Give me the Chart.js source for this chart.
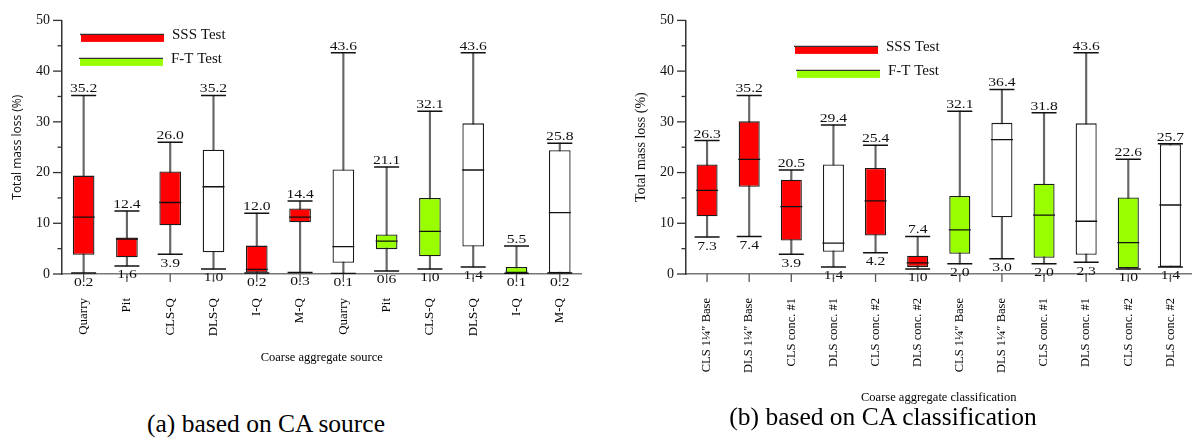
<!DOCTYPE html>
<html>
<head>
<meta charset="utf-8">
<script src="https://cdn.jsdelivr.net/npm/chart.js@4"></script>
<style>
  body { margin: 0; width: 1204px; height: 440px; overflow: hidden; background: #fff; position: relative; }
  .panel { position: absolute; top: 0; }
  .caption { position: absolute; font-family: "Liberation Serif", serif; font-size: 25.5px; color: #000; white-space: nowrap; transform: translate(-50%, -50%); }
</style>
</head>
<body>
<div class="panel" style="left:0"><canvas id="chartA" width="600" height="380"></canvas></div>
<div class="panel" style="left:600px"><canvas id="chartB" width="610" height="420"></canvas></div>
<div class="caption" style="left:266px;top:424px">(a) based on CA source</div>
<div class="caption" style="left:883px;top:417px">(b) based on CA classification</div>

<script>
// (a) based on CA source
const sourceLabels = ["Quarry", "Pit", "CLS-Q", "DLS-Q", "I-Q", "M-Q", "Quarry", "Pit", "CLS-Q", "DLS-Q", "I-Q", "M-Q"];
const sourceTest = ["SSS", "SSS", "SSS", "other", "SSS", "SSS", "other", "F-T", "F-T", "other", "F-T", "other"];
const sourceMin = [0.2, 1.6, 3.9, 1.0, 0.2, 0.3, 0.1, 0.6, 1.0, 1.4, 0.1, 0.2];
const sourceQ1 = [3.8, 3.3, 9.6, 4.3, 0.3, 10.2, 2.2, 4.9, 3.5, 5.4, 0.1, 0.2];
const sourceMed = [11.2, 6.9, 14.1, 17.2, 0.9, 11.2, 5.4, 6.5, 8.4, 20.5, 0.3, 12.1];
const sourceQ3 = [19.4, 7.2, 20.2, 24.5, 5.6, 12.9, 20.6, 7.8, 15.0, 29.7, 1.4, 24.4];
const sourceMax = [35.2, 12.4, 26.0, 35.2, 12.0, 14.4, 43.6, 21.1, 32.1, 43.6, 5.5, 25.8];

// (b) based on CA classification
const classLabels = ["CLS 1¼″ Base", "DLS 1¼″ Base", "CLS conc. #1", "DLS conc. #1", "CLS conc. #2", "DLS conc. #2",
  "CLS 1¼″ Base", "DLS 1¼″ Base", "CLS conc. #1", "DLS conc. #1", "CLS conc. #2", "DLS conc. #2"];
const classTest = ["SSS", "SSS", "SSS", "other", "SSS", "SSS", "F-T", "other", "F-T", "other", "F-T", "other"];
const classMin = [7.3, 7.4, 3.9, 1.4, 4.2, 1.0, 2.0, 3.0, 2.0, 2.3, 1.0, 1.4];
const classQ1 = [11.4, 17.2, 6.6, 4.4, 7.6, 1.4, 4.0, 11.2, 3.2, 3.8, 1.1, 1.4];
const classMed = [16.5, 22.6, 13.3, 6.1, 14.4, 2.2, 8.7, 26.5, 11.6, 10.4, 6.2, 13.6];
const classQ3 = [21.6, 30.1, 18.6, 21.6, 20.9, 3.6, 15.4, 29.8, 17.8, 29.7, 15.1, 25.6];
const classMax = [26.3, 35.2, 20.5, 29.4, 25.4, 7.4, 32.1, 36.4, 31.8, 43.6, 22.6, 25.7];

const yTicks = [0, 10, 20, 30, 40, 50];

const fills = { "SSS": "#ff0000", "F-T": "#99ff00", "other": "#ffffff" };
const serif = '"Liberation Serif", "Times New Roman", serif';

// stretched number text like the original figure
function wideText(ctx, txt, x, y) {
  ctx.save();
  ctx.translate(x, y);
  ctx.scale(1.25, 1);
  ctx.fillText(txt, 0, 0);
  ctx.restore();
}

const boxDeco = {
  id: "boxDeco",
  afterDraw(chart, args, opts) {
    const { ctx, chartArea } = chart;
    const x = chart.scales.x, y = chart.scales.y;
    ctx.save();

    // y axis major / minor ticks
    ctx.strokeStyle = "#333";
    ctx.lineWidth = 1.3;
    for (let v = 0; v <= 50; v += 5) {
      const py = y.getPixelForValue(v);
      const len = v % 10 === 0 ? 9 : 4.5;
      ctx.beginPath();
      ctx.moveTo(chartArea.left - len, py);
      ctx.lineTo(chartArea.left, py);
      ctx.stroke();
    }

    // max / min value labels
    ctx.fillStyle = "#111";
    ctx.font = "12.5px " + serif;
    ctx.textAlign = "center";
    ctx.textBaseline = "alphabetic";
    opts.max.forEach((v, i) => wideText(ctx, v.toFixed(1), x.getPixelForValue(i), y.getPixelForValue(v) - 3));
    ctx.textBaseline = "top";
    opts.min.forEach((v, i) => wideText(ctx, v.toFixed(1), x.getPixelForValue(i), y.getPixelForValue(v) + 3));

    // x axis ticks (drawn over the low labels, as in the original)
    ctx.strokeStyle = "#555";
    ctx.lineWidth = 1.3;
    opts.max.forEach((v, i) => {
      const px = x.getPixelForValue(i);
      ctx.beginPath();
      ctx.moveTo(px, chartArea.bottom);
      ctx.lineTo(px, chartArea.bottom + 8);
      ctx.stroke();
    });

    // legend
    ctx.font = "15px " + serif;
    ctx.textAlign = "left";
    ctx.textBaseline = "middle";
    opts.legend.forEach(item => {
      const lx = chartArea.left + item.dx, ly = chartArea.top + item.dy;
      ctx.fillStyle = fills[item.test];
      ctx.fillRect(lx, ly, 83, 7.5);
      ctx.strokeStyle = "#333";
      ctx.lineWidth = 1.3;
      ctx.beginPath();
      ctx.moveTo(lx - 1, ly);
      ctx.lineTo(lx + 83, ly);
      ctx.stroke();
      ctx.fillStyle = "#111";
      ctx.fillText(item.text, lx + 83 + 8, ly + 0.5);
    });
    ctx.restore();
  }
};

function boxChart(id, cfg) {
  const pointSet = (data, r, w) => ({
    type: "line", data: data, showLine: false, fill: false,
    pointStyle: "line", pointRadius: r, pointHoverRadius: r,
    pointBorderWidth: w, pointHoverBorderWidth: w, pointBorderColor: "#111", borderColor: "#111", order: 1
  });
  return new Chart(document.getElementById(id), {
    type: "bar",
    data: {
      labels: cfg.labels,
      datasets: [
        { // whiskers
          data: cfg.min.map((v, i) => [v, cfg.max[i]]),
          backgroundColor: "#666", barThickness: 1.5, grouped: false, order: 3
        },
        { // boxes
          data: cfg.q1.map((v, i) => [v, cfg.q3[i]]),
          backgroundColor: cfg.test.map(t => fills[t]),
          borderColor: "#1a1a1a", borderWidth: 1.3, borderSkipped: false,
          barPercentage: 0.5, categoryPercentage: 1, grouped: false, order: 2
        },
        pointSet(cfg.med, 11, 1.3),
        pointSet(cfg.max, 12.5, 1.5),
        pointSet(cfg.min, 12.5, 1.5)
      ]
    },
    options: {
      responsive: false,
      animation: false,
      events: [],
      layout: { padding: { top: 13, left: 0, right: cfg.padRight, bottom: 0 } },
      plugins: {
        legend: { display: false },
        tooltip: { enabled: false },
        boxDeco: { max: cfg.max, min: cfg.min, legend: cfg.legend }
      },
      scales: {
        x: {
          offset: true,
          grid: { display: false, drawTicks: false },
          border: { color: "#777", width: 1.5 },
          ticks: {
            autoSkip: false, minRotation: 90, maxRotation: 90, padding: 24,
            color: "#000", font: { family: serif, size: cfg.xTickSize }
          },
          title: {
            display: true, text: cfg.xTitle, color: "#000",
            font: { family: serif, size: 12.5 }, padding: { top: 0, bottom: cfg.xTitlePad }
          },
          afterFit: s => { s.height = cfg.xHeight; }
        },
        y: {
          min: 0, max: 50,
          afterBuildTicks: s => { s.ticks = yTicks.map(v => ({ value: v })); },
          grid: { display: false, drawTicks: false },
          border: { color: "#333", width: 1.5 },
          ticks: { padding: 12, color: "#111", font: { family: serif, size: 14 } },
          title: {
            display: true, text: "Total mass loss (%)", color: "#111",
            font: cfg.yTitleFont, padding: { top: cfg.yTitlePad, bottom: 0 }
          },
          afterFit: s => { s.width = cfg.yWidth; }
        }
      }
    },
    plugins: [boxDeco]
  });
}

boxChart("chartA", {
  labels: sourceLabels, test: sourceTest,
  min: sourceMin, q1: sourceQ1, med: sourceMed, q3: sourceQ3, max: sourceMax,
  xTitle: "Coarse aggregate source", xTickSize: 13, xHeight: 106, xTitlePad: 15,
  yWidth: 62, yTitlePad: 10.8, yTitleFont: { family: '"Open Sans", sans-serif', size: 12 },
  padRight: 15,
  legend: [
    { test: "SSS", text: "SSS Test", dx: 19, dy: 14 },
    { test: "F-T", text: "F-T Test", dx: 18, dy: 38 }
  ]
});

boxChart("chartB", {
  labels: classLabels, test: classTest,
  min: classMin, q1: classQ1, med: classMed, q3: classQ3, max: classMax,
  xTitle: "Coarse aggregate classification", xTickSize: 12.5, xHeight: 146, xTitlePad: 14.5,
  yWidth: 86, yTitlePad: 32.6, yTitleFont: { family: serif, size: 14 },
  padRight: 1,
  legend: [
    { test: "SSS", text: "SSS Test", dx: 109, dy: 26 },
    { test: "F-T", text: "F-T Test", dx: 111, dy: 50 }
  ]
});
</script>
</body>
</html>
